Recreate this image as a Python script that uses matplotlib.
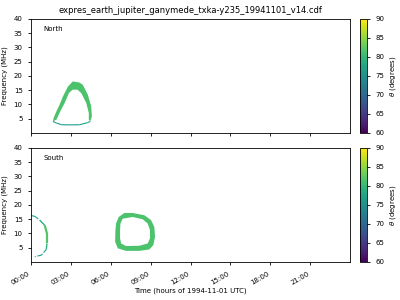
import numpy as np
import matplotlib
matplotlib.use("Agg")
import matplotlib.pyplot as plt
from matplotlib.path import Path
from matplotlib.patches import PathPatch
from matplotlib.collections import LineCollection
from matplotlib.colors import Normalize
from matplotlib.cm import ScalarMappable

title = "expres_earth_jupiter_ganymede_txka-y235_19941101_v14.cdf"
tick_hours = [0, 3, 6, 9, 12, 15, 18, 21]
tick_labels = ["00:00", "03:00", "06:00", "09:00", "12:00", "15:00", "18:00", "21:00"]

# North emission arch (hours, MHz): outer edge left->right, inner edge right->left
north_outer_h = [1.65, 1.70, 1.91, 2.15, 2.40, 2.78, 3.15, 3.65, 3.90, 4.28, 4.53, 4.58, 4.46]
north_outer_f = [4.06, 5.25, 7.56, 9.9, 12.8, 16.3, 18.1, 17.7, 16.9, 13.4, 9.3, 5.8, 4.06]
north_inner_h = [4.35, 4.35, 4.16, 3.78, 3.50, 3.13, 2.85, 2.53, 2.20, 1.91]
north_inner_f = [4.65, 7.0, 10.5, 14.0, 15.2, 15.2, 14.0, 10.5, 7.56, 4.65]
north_theta = 81.5
# thin low-frequency part of the north loop
north_low_h = [1.65, 1.91, 2.30, 3.00, 3.65, 4.25, 4.46]
north_low_f = [4.06, 3.5, 2.9, 2.85, 2.9, 3.6, 4.06]
north_low_theta = [77, 76.5, 76.5, 76.5, 77, 78]

# South emission loop
south_outer_h = [6.35, 6.40, 6.60, 7.03, 7.65, 8.53, 9.03, 9.28, 9.33, 9.20, 8.90, 8.15, 7.15, 6.53, 6.33]
south_outer_f = [11.2, 13.5, 15.8, 17.2, 17.2, 16.4, 14.7, 12.3, 8.8, 5.9, 4.4, 3.9, 3.9, 4.8, 7.1]
south_inner_h = [6.70, 6.73, 6.90, 7.65, 8.40, 8.78, 8.95, 8.95, 8.78, 8.15, 7.15, 6.78, 6.70]
south_inner_f = [11.2, 13.5, 15.2, 15.8, 15.0, 13.5, 11.2, 8.3, 6.5, 5.7, 5.6, 6.5, 8.3]
south_theta = 81.5
# South arc near 00:00
arc_h = [0.0, 0.30, 0.65, 1.03, 1.20, 1.20, 1.15, 0.78, 0.28]
arc_f = [16.3, 16.0, 14.7, 12.9, 10.0, 6.5, 4.4, 2.4, 1.85]
arc_theta = [76.5, 77, 79, 82, 82, 79, 77, 76.5]

plt.rcParams['font.family'] = ['DejaVu Sans']
cmap = plt.get_cmap("viridis")
norm = Normalize(vmin=60, vmax=90)


def arch(ax, oh, of, ih, inf, theta):
    ax.fill(list(oh) + list(ih), list(of) + list(inf),
            facecolor=cmap(norm(theta)), edgecolor="none")


def ring(ax, oh, of, ih, inf, theta):
    outer = list(zip(oh, of))
    inner = list(zip(ih, inf))[::-1]
    verts = outer + [outer[0]] + inner + [inner[0]]
    codes = ([Path.MOVETO] + [Path.LINETO] * (len(outer) - 1) + [Path.CLOSEPOLY]
             + [Path.MOVETO] + [Path.LINETO] * (len(inner) - 1) + [Path.CLOSEPOLY])
    ax.add_patch(PathPatch(Path(verts, codes), facecolor=cmap(norm(theta)),
                           edgecolor="none"))


def line(ax, h, f, theta, lws, ls="solid"):
    pts = np.column_stack([h, f])
    segs = np.stack([pts[:-1], pts[1:]], axis=1)
    lc = LineCollection(segs, cmap=cmap, norm=norm, linewidths=lws,
                        linestyles=ls, capstyle="butt")
    lc.set_array(np.array(theta))
    ax.add_collection(lc)


fig = plt.figure(figsize=(4, 3), dpi=100)
ax1 = fig.add_axes([0.0775, 0.5567, 0.7975, 0.38])
ax2 = fig.add_axes([0.0775, 0.1267, 0.7975, 0.38])
cax1 = fig.add_axes([0.9, 0.5567, 0.0185, 0.38])
cax2 = fig.add_axes([0.9, 0.1267, 0.0185, 0.38])

arch(ax1, north_outer_h, north_outer_f, north_inner_h, north_inner_f, north_theta)
line(ax1, north_low_h, north_low_f, north_low_theta, 0.8)
ring(ax2, south_outer_h, south_outer_f, south_inner_h, south_inner_f, south_theta)
line(ax2, arc_h, arc_f, arc_theta, [0.8, 0.8, 1.0, 1.6, 1.6, 1.0, 0.8, 0.8],
     ["--", "--", "solid", "solid", "solid", "solid", "--", "--"])

for ax, name in [(ax1, "North"), (ax2, "South")]:
    ax.set_xlim(0, 24)
    ax.set_ylim(0, 40)
    ax.set_yticks([5, 10, 15, 20, 25, 30, 35, 40])
    ax.set_xticks(tick_hours)
    ax.tick_params(labelsize=5, length=2.5, width=0.6)
    ax.set_ylabel("Frequency (MHz)", fontsize=5)
    ax.text(0.038, 0.91, name, transform=ax.transAxes, fontsize=5, va="center")
    for s in ax.spines.values():
        s.set_linewidth(0.6)

ax1.set_xticklabels([])
ax2.set_xticklabels(tick_labels, rotation=30, ha="right")
ax2.set_xlabel("Time (hours of 1994-11-01 UTC)", fontsize=5, labelpad=1)
ax1.set_title(title, fontsize=6, pad=4)

for cax in (cax1, cax2):
    cb = fig.colorbar(ScalarMappable(norm=norm, cmap=cmap), cax=cax)
    cb.set_ticks([60, 65, 70, 75, 80, 85, 90])
    cb.ax.tick_params(labelsize=5, length=2.5, width=0.6)
    cb.set_label(r"$\theta$ (degrees)", fontsize=5, labelpad=2)
    cb.outline.set_linewidth(0.6)

fig.savefig("out.png", dpi=100)
